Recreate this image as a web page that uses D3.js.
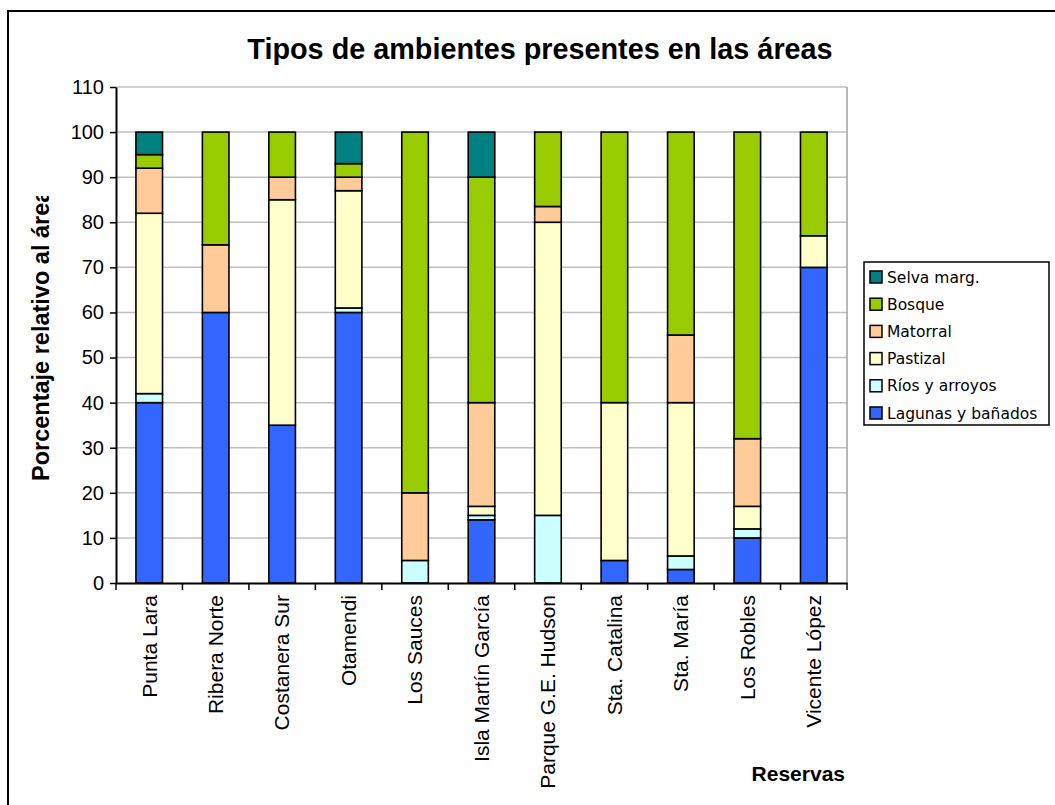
<!DOCTYPE html>
<html>
<head>
<meta charset="utf-8">
<script src="https://cdn.jsdelivr.net/npm/d3@7/dist/d3.min.js"></script>
<style>
  html, body { margin: 0; padding: 0; background: #fff; }
  svg { display: block; }
</style>
</head>
<body>
<svg id="chart" width="1055" height="805"></svg>
<script>
const categories = ["Punta Lara", "Ribera Norte", "Costanera Sur", "Otamendi", "Los Sauces",
  "Isla Martín García", "Parque G.E. Hudson", "Sta. Catalina", "Sta. María", "Los Robles", "Vicente López"];

const seriesNames = ["Lagunas y bañados", "Ríos y arroyos", "Pastizal", "Matorral", "Bosque", "Selva marg."];
const seriesColors = ["#3366FF", "#CCFFFF", "#FFFFCC", "#FFCC99", "#99CC00", "#008080"];

const lagunas  = [40, 60, 35, 60, 0, 14, 0, 5, 3, 10, 70];
const rios     = [2, 0, 0, 1, 5, 1, 15, 0, 3, 2, 0];
const pastizal = [40, 0, 50, 26, 0, 2, 65, 35, 34, 5, 7];
const matorral = [10, 15, 5, 3, 15, 23, 3.5, 0, 15, 15, 0];
const bosque   = [3, 25, 10, 3, 80, 50, 16.5, 60, 45, 68, 23];
const selva    = [5, 0, 0, 7, 0, 10, 0, 0, 0, 0, 0];

const yTicks = [0, 10, 20, 30, 40, 50, 60, 70, 80, 90, 100, 110];

const titleText = "Tipos de ambientes presentes en las áreas";
const yLabel = "Porcentaje relativo al área";
const xLabel = "Reservas";

const seriesValues = [lagunas, rios, pastizal, matorral, bosque, selva];
const rows = categories.map((c, i) => {
  const r = { cat: c };
  seriesNames.forEach((s, j) => r[s] = seriesValues[j][i]);
  return r;
});

const svg = d3.select("#chart");
const L = 116, R = 847, T = 87, B = 583;

// outer border
svg.append("rect").attr("x", 8).attr("y", 11).attr("width", 1060).attr("height", 810)
  .attr("fill", "#fff").attr("stroke", "#000").attr("stroke-width", 2);

const x = d3.scaleBand().domain(categories).range([L, R]).paddingInner(0.6).paddingOuter(0.3);
const y = d3.scaleLinear().domain([0, 110]).range([B, T]);

// gridlines
svg.append("g").selectAll("line").data(yTicks.filter(d => d > 0)).join("line")
  .attr("x1", L).attr("x2", R).attr("y1", d => y(d)).attr("y2", d => y(d))
  .attr("stroke", "#c0c0c0").attr("stroke-width", 1.5);
// plot border right
svg.append("line").attr("x1", R).attr("x2", R).attr("y1", T).attr("y2", B)
  .attr("stroke", "#a0a0a0").attr("stroke-width", 1.5);

// stacked bars
const stack = d3.stack().keys(seriesNames);
const stacked = stack(rows);
const gBars = svg.append("g");
stacked.forEach((layer, j) => {
  gBars.append("g").attr("fill", seriesColors[j])
    .selectAll("rect").data(layer.filter(d => d[1] - d[0] > 0)).join("rect")
    .attr("x", d => x(d.data.cat))
    .attr("width", x.bandwidth())
    .attr("y", d => y(d[1]))
    .attr("height", d => y(d[0]) - y(d[1]))
    .attr("stroke", "#000").attr("stroke-width", 1.6);
});

// y axis
const yAxis = d3.axisLeft(y).tickValues(yTicks).tickSize(6).tickSizeOuter(0).tickPadding(6);
const gy = svg.append("g").attr("transform", `translate(${L},0)`).call(yAxis);
gy.select(".domain").attr("stroke", "#000").attr("stroke-width", 2);
gy.selectAll(".tick line").attr("stroke", "#000").attr("stroke-width", 1.5);
gy.selectAll(".tick text").attr("font-family", "Liberation Sans, Arial, sans-serif")
  .attr("font-size", 20).attr("fill", "#000");

// x axis
const xAxis = d3.axisBottom(x).tickSize(0).tickSizeOuter(0).tickPadding(0);
const gx = svg.append("g").attr("transform", `translate(0,${B})`).call(xAxis);
gx.select(".domain").attr("stroke", "#000").attr("stroke-width", 2);
gx.selectAll(".tick text")
  .attr("font-family", "Liberation Sans, Arial, sans-serif").attr("font-size", 21).attr("fill", "#000")
  .attr("text-anchor", "end").attr("transform", "rotate(-90)")
  .attr("x", -12).attr("y", 0).attr("dy", "0.35em");
// x tick marks at band boundaries
const step = x.step();
gx.append("g").selectAll("line").data(d3.range(categories.length + 1)).join("line")
  .attr("x1", i => L + i * step).attr("x2", i => L + i * step)
  .attr("y1", 0).attr("y2", 7).attr("stroke", "#000").attr("stroke-width", 1.5);

// title
svg.append("text").attr("x", 540).attr("y", 59).attr("text-anchor", "middle")
  .attr("font-family", "Liberation Sans, Arial, sans-serif").attr("font-weight", "bold")
  .attr("font-size", 28.8).text(titleText);

// y label (clipped)
const defs = svg.append("defs");
defs.append("clipPath").attr("id", "ylabClip").append("rect")
  .attr("x", 0).attr("y", 196).attr("width", 100).attr("height", 400);
svg.append("g").attr("clip-path", "url(#ylabClip)")
  .append("text")
  .attr("transform", "translate(49,481) rotate(-90)")
  .attr("font-family", "Liberation Sans, Arial, sans-serif").attr("font-weight", "bold")
  .attr("font-size", 23.5).text(yLabel);

// x label
svg.append("text").attr("x", 845).attr("y", 781).attr("text-anchor", "end")
  .attr("font-family", "Liberation Sans, Arial, sans-serif").attr("font-weight", "bold")
  .attr("font-size", 21).text(xLabel);

// legend
const lg = svg.append("g");
lg.append("rect").attr("x", 864).attr("y", 262).attr("width", 185).attr("height", 163)
  .attr("fill", "#fff").attr("stroke", "#000").attr("stroke-width", 1.5);
const legendOrder = d3.range(seriesNames.length).reverse();
const items = lg.selectAll("g.item").data(legendOrder).join("g").attr("class", "item")
  .attr("transform", (d, i) => `translate(870,${277 + i * 27.2})`);
items.append("rect").attr("x", 0).attr("y", -6).attr("width", 12).attr("height", 12)
  .attr("fill", d => seriesColors[d]).attr("stroke", "#000").attr("stroke-width", 1.5);
items.append("text").attr("x", 17).attr("y", 0).attr("dy", "0.36em")
  .attr("font-family", "DejaVu Sans, Verdana, sans-serif").attr("font-size", 15.5)
  .text(d => seriesNames[d]);
</script>
</body>
</html>
